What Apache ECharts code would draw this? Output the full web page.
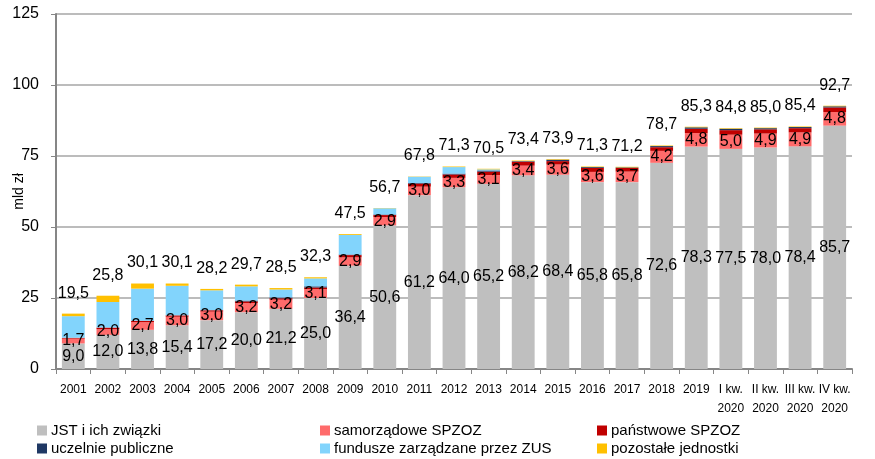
<!DOCTYPE html>
<html>
<head>
<meta charset="utf-8">
<script src="https://cdn.jsdelivr.net/npm/echarts@6/dist/echarts.min.js"></script>
<style>
  html, body { margin: 0; padding: 0; background: #fff; }
  #chart { width: 875px; height: 459px; }
</style>
</head>
<body>
<div id="chart"></div>
<script>
// kategorie (lata i kwartały 2020)
var categories = ['2001','2002','2003','2004','2005','2006','2007','2008','2009','2010',
  '2011','2012','2013','2014','2015','2016','2017','2018','2019',
  'I kw.\n2020','II kw.\n2020','III kw.\n2020','IV kw.\n2020']

// wartości w mld zł
var jst        = [9.0,12.0,13.8,15.4,17.2,20.0,21.2,25.0,36.4,50.6,61.2,64.0,65.2,68.2,68.4,65.8,65.8,72.6,78.3,77.5,78.0,78.4,85.7]
var samorzadowe = [1.7,2.0,2.7,3.0,3.0,3.2,3.2,3.1,2.9,2.9,3.0,3.3,3.1,3.4,3.6,3.6,3.7,4.2,4.8,5.0,4.9,4.9,4.8]
var panstwowe  = [0.3,0.6,0.5,0.5,0.5,0.6,0.5,0.6,0.8,0.7,1.1,1.2,1.2,1.4,1.2,1.4,1.3,1.3,1.5,1.6,1.5,1.5,1.6]
var uczelnie   = [0.0,0.0,0.0,0.0,0.0,0.3,0.3,0.4,0.2,0.2,0.2,0.3,0.4,0.2,0.5,0.3,0.2,0.4,0.5,0.5,0.4,0.4,0.4]
var fundusze   = [7.6,9.0,11.3,10.4,7.0,5.0,2.8,2.8,6.9,2.2,2.2,2.3,0.4,0.0,0.0,0.0,0.0,0.0,0.0,0.0,0.0,0.0,0.0]
var pozostale  = [0.9,2.2,1.8,0.8,0.5,0.6,0.5,0.4,0.3,0.1,0.1,0.2,0.2,0.2,0.2,0.2,0.2,0.2,0.2,0.2,0.2,0.2,0.2]
var sumy       = [19.5,25.8,30.1,30.1,28.2,29.7,28.5,32.3,47.5,56.7,67.8,71.3,70.5,73.4,73.9,71.3,71.2,78.7,85.3,84.8,85.0,85.4,92.7]

var fnt = "'Liberation Sans', Arial, sans-serif"

function fmt (v) {
  return Number(v).toFixed(1).replace('.', ',')
}

var barLabel = {
  show: true,
  position: 'inside',
  color: '#000',
  fontSize: 16,
  fontFamily: fnt,
  formatter: function (p) { return fmt(p.value) }
}

function legendAt (name, left, top) {
  return {
    data: [name],
    left: left,
    top: top,
    icon: 'rect',
    itemWidth: 10,
    itemHeight: 10,
    itemGap: 4,
    textStyle: { fontSize: 15, fontFamily: fnt, color: '#000', padding: [0, 0, 0, -1] }
  }
}

var option = {
  animation: false,
  grid: { left: 56, right: 23, top: 14, bottom: 90, containLabel: false, outerBoundsMode: 'none' },
  legend: [
    legendAt('JST i ich związki', 32, 418),
    legendAt('samorządowe SPZOZ', 315, 418),
    legendAt('państwowe SPZOZ', 592, 418),
    legendAt('uczelnie publiczne', 32, 436),
    legendAt('fundusze zarządzane przez ZUS', 315, 436),
    legendAt('pozostałe jednostki', 592, 436)
  ],
  xAxis: {
    type: 'category',
    data: categories,
    axisLine: { lineStyle: { color: '#868686', width: 2 } },
    axisTick: { show: true, length: 5, lineStyle: { color: '#868686', width: 1 } },
    axisLabel: {
      interval: 0,
      margin: 11,
      color: '#000',
      fontSize: 12,
      lineHeight: 19,
      fontFamily: fnt
    }
  },
  yAxis: {
    type: 'value',
    min: 0,
    max: 125,
    interval: 25,
    name: 'mld zł',
    nameLocation: 'middle',
    nameGap: 30,
    nameRotate: 90,
    nameMoveOverlap: false,
    nameTextStyle: { fontSize: 14, fontFamily: fnt, color: '#000' },
    axisLine: { show: true, lineStyle: { color: '#868686', width: 2 } },
    axisTick: { show: true, length: 5, lineStyle: { color: '#868686' } },
    axisLabel: { color: '#000', fontSize: 16, fontFamily: fnt, margin: 17 },
    splitLine: { lineStyle: { color: '#A6A6A6', width: 1.5 } }
  },
  series: [
    {
      name: 'JST i ich związki', type: 'bar', stack: 'a', barWidth: '66%',
      itemStyle: { color: '#BFBFBF' }, data: jst, label: barLabel
    },
    {
      name: 'samorządowe SPZOZ', type: 'bar', stack: 'a',
      itemStyle: { color: '#FF6B6B' }, data: samorzadowe, label: barLabel
    },
    {
      name: 'państwowe SPZOZ', type: 'bar', stack: 'a',
      itemStyle: { color: '#C00000' }, data: panstwowe
    },
    {
      name: 'uczelnie publiczne', type: 'bar', stack: 'a',
      itemStyle: { color: '#1F3864' }, data: uczelnie
    },
    {
      name: 'fundusze zarządzane przez ZUS', type: 'bar', stack: 'a',
      itemStyle: { color: '#82D4FC' }, data: fundusze
    },
    {
      name: 'pozostałe jednostki', type: 'bar', stack: 'a',
      itemStyle: { color: '#FFC000' }, data: pozostale
    },
    {
      // sumy nad słupkami
      name: 'suma', type: 'line', data: sumy,
      symbol: 'circle', symbolSize: 1, showSymbol: true,
      itemStyle: { color: 'rgba(0,0,0,0)' },
      lineStyle: { opacity: 0 },
      silent: true,
      label: {
        show: true,
        position: 'top',
        distance: 12,
        color: '#000',
        fontSize: 16,
        fontFamily: fnt,
        formatter: function (p) { return fmt(p.value) }
      }
    }
  ]
}

var myChart = echarts.init(document.getElementById('chart'))
myChart.setOption(option)
</script>
</body>
</html>
